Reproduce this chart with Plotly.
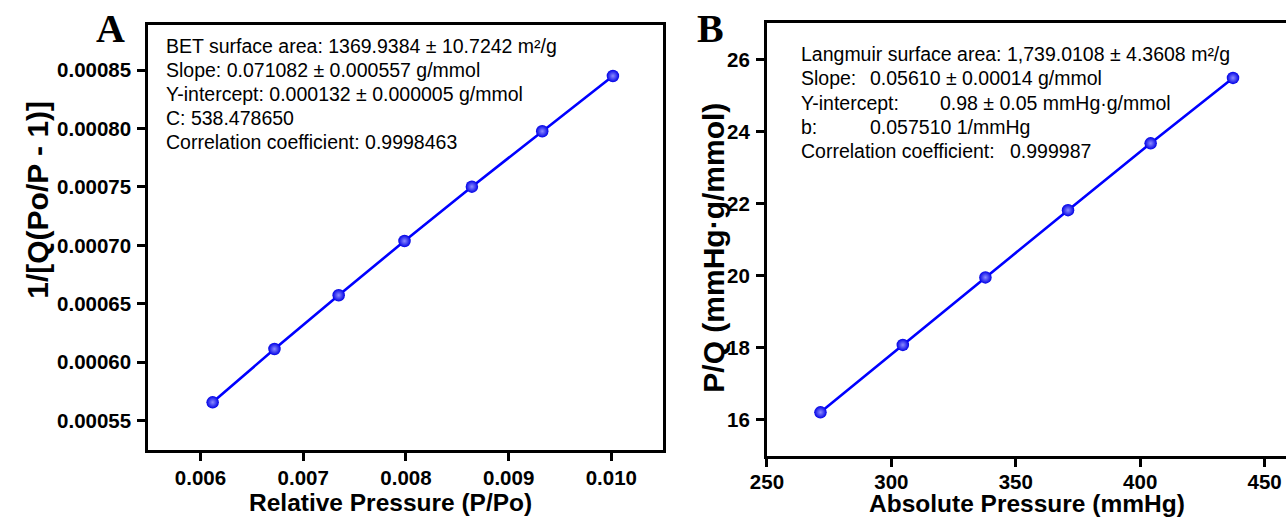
import plotly.graph_objects as go

W, H = 1286, 519

# ---- Panel A: BET plot data ----
bet_x = [0.006118, 0.006720, 0.007345, 0.007986, 0.008642, 0.009327, 0.010015]
bet_y = [0.0005657, 0.0006113, 0.0006573, 0.0007037, 0.0007502, 0.0007976, 0.0008449]
bet_xticks = [0.006, 0.007, 0.008, 0.009, 0.010]
bet_yticks = [0.00055, 0.00060, 0.00065, 0.00070, 0.00075, 0.00080, 0.00085]
bet_text = [
    "BET surface area: 1369.9384 ± 10.7242 m²/g",
    "Slope: 0.071082 ± 0.000557 g/mmol",
    "Y-intercept: 0.000132 ± 0.000005 g/mmol",
    "C: 538.478650",
    "Correlation coefficient: 0.9998463",
]

# ---- Panel B: Langmuir plot data ----
lang_x = [271.5, 304.6, 337.8, 371.0, 404.2, 437.3]
lang_y = [16.195, 18.07, 19.95, 21.82, 23.68, 25.50]
lang_xticks = [250, 300, 350, 400, 450]
lang_yticks = [16, 18, 20, 22, 24, 26]
lang_labels = ["Langmuir surface area: 1,739.0108 ± 4.3608 m²/g",
               "Slope:", "Y-intercept:", "b:", "Correlation coefficient:"]
lang_values = ["", "0.05610 ± 0.00014 g/mmol", "0.98 ± 0.05 mmHg·g/mmol",
               "0.057510 1/mmHg", "0.999987"]


def px_x(p):
    return p / W


def px_y(p):
    return 1 - p / H


SANS = "Liberation Sans, Arial, sans-serif"
SERIF = "Liberation Serif, Times New Roman, serif"

fig = go.Figure()

marker = dict(size=12.5, color="#0000e6",
              gradient=dict(type="radial", color="#8c8cff"),
              line=dict(width=0))

fig.add_trace(go.Scatter(x=bet_x, y=bet_y, mode="lines+markers",
                         line=dict(color="#0000ff", width=2.6),
                         marker=marker, xaxis="x", yaxis="y"))
fig.add_trace(go.Scatter(x=lang_x, y=lang_y, mode="lines+markers",
                         line=dict(color="#0000ff", width=2.6),
                         marker=marker, xaxis="x2", yaxis="y2"))

tickfont = dict(family=SANS, size=20.5, color="black", weight="bold")
common = dict(showline=True, linecolor="black", linewidth=3, ticks="outside",
              ticklen=8, tickwidth=2.5, tickcolor="black", showgrid=False,
              zeroline=False, tickfont=tickfont)

fig.update_layout(
    width=W, height=H,
    margin=dict(l=0, r=0, t=0, b=0),
    paper_bgcolor="white", plot_bgcolor="white",
    showlegend=False,
    xaxis=dict(domain=[px_x(133), px_x(655)], range=[0.005491, 0.010506],
               tickvals=bet_xticks, tickformat=".3f", mirror=True,
               anchor="y", ticklabelstandoff=-1, **common),
    yaxis=dict(domain=[px_y(450), px_y(25)], range=[0.0005249, 0.0008885],
               tickvals=bet_yticks, tickformat=".5f", mirror=True,
               anchor="x", ticklabelstandoff=2, **common),
    xaxis2=dict(domain=[px_x(760), 1.0], range=[250, 458.6],
                tickvals=lang_xticks, mirror=True, anchor="y2",
                ticklabelstandoff=-3, **common),
    yaxis2=dict(domain=[px_y(456), px_y(23.3)], range=[14.98, 27.02],
                tickvals=lang_yticks, mirror=False, anchor="x2",
                ticklabelstandoff=2, **common),
)

ann = []
txtfont = dict(family=SANS, size=19.5, color="black")
bet_rows = [45.5, 69.5, 94, 118, 142]
for t, yy in zip(bet_text, bet_rows):
    ann.append(dict(text=t, x=px_x(149), y=px_y(yy), xref="paper", yref="paper",
                    xanchor="left", yanchor="middle", showarrow=False, font=txtfont))

lang_rows = [54, 78.5, 103, 127, 151]
lang_val_x = [None, 862, 933, 862, 1004]
for lab, val, vx, yy in zip(lang_labels, lang_values, lang_val_x, lang_rows):
    ann.append(dict(text=lab, x=px_x(792.5), y=px_y(yy), xref="paper", yref="paper",
                    xanchor="left", yanchor="middle", showarrow=False, font=txtfont))
    if val:
        ann.append(dict(text=val, x=px_x(vx), y=px_y(yy), xref="paper", yref="paper",
                        xanchor="left", yanchor="middle", showarrow=False, font=txtfont))

titlefont = dict(family=SANS, size=24.5, color="black", weight="bold")
ann.append(dict(text="Relative Pressure (P/Po)", x=px_x(379), y=px_y(502),
                xref="paper", yref="paper", xanchor="center", yanchor="middle",
                showarrow=False, font=titlefont))
ann.append(dict(text="Absolute Pressure (mmHg)", x=px_x(1024), y=0,
                xref="paper", yref="paper", xanchor="center", yanchor="bottom",
                showarrow=False, font=titlefont))
ytitlefont = dict(family=SANS, size=30, color="black", weight="bold")
ann.append(dict(text="1/[Q(Po/P - 1)]", x=px_x(21), y=px_y(200), textangle=-90,
                xref="paper", yref="paper", xanchor="center", yanchor="middle",
                showarrow=False, font=ytitlefont))
ann.append(dict(text="P/Q (mmHg·g/mmol)", x=px_x(705), y=px_y(248), textangle=-90,
                xref="paper", yref="paper", xanchor="center", yanchor="middle",
                showarrow=False, font=ytitlefont))

panelfont = dict(family=SERIF, size=40, color="black", weight="bold")
ann.append(dict(text="A", x=px_x(95), y=px_y(28.5), xref="paper", yref="paper",
                xanchor="center", yanchor="middle", showarrow=False, font=panelfont))
ann.append(dict(text="B", x=px_x(703), y=px_y(28.5), xref="paper", yref="paper",
                xanchor="center", yanchor="middle", showarrow=False, font=panelfont))

fig.update_layout(annotations=ann)

# remove the browser's default 8px body margin so the figure fills the window exactly
fig.write_html("out.html", config={"displayModeBar": False},
               post_script="document.body.style.margin='0px';")
